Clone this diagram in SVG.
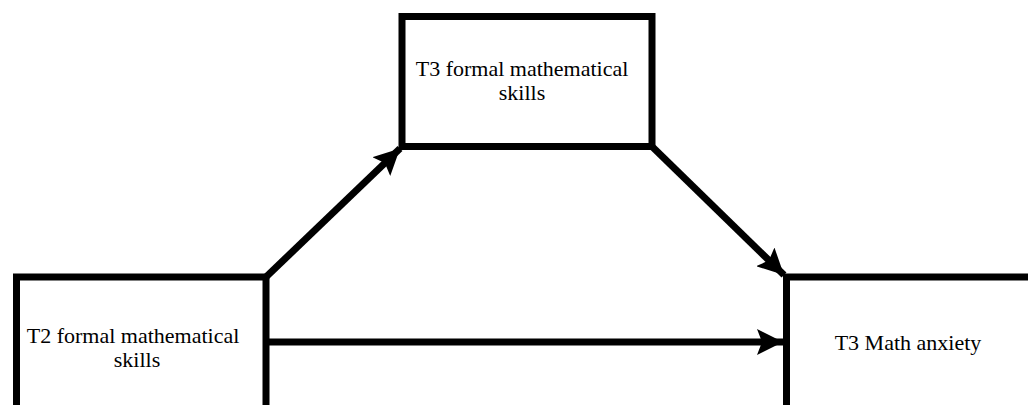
<svg xmlns="http://www.w3.org/2000/svg" width="1028" height="405" viewBox="0 0 1028 405">
<defs>
<style>
.box{fill:#fff;stroke:#000;stroke-width:7}
.lbl{font-family:"Liberation Serif","Times New Roman",serif;font-size:22px;fill:#000;text-anchor:middle}
.conn{stroke:#000;stroke-width:7;fill:none}
</style>
<marker id="ah" markerUnits="userSpaceOnUse" markerWidth="28" markerHeight="26" refX="26" refY="13" orient="auto">
<path d="M0,0 L26,13 L0,26 L5,13 Z" fill="#000"/>
</marker>
</defs>
<rect width="1028" height="405" fill="#fff"/>
<g id="connectors">
<line class="conn" x1="266" y1="277" x2="400" y2="148.5" marker-end="url(#ah)"/>
<line class="conn" x1="652" y1="146.5" x2="784" y2="275" marker-end="url(#ah)"/>
<line class="conn" x1="266" y1="342" x2="783" y2="342" marker-end="url(#ah)"/>
</g>
<g id="node-t3-skills">
<rect class="box" x="402" y="16.5" width="250" height="130"/>
<text class="lbl" x="522" y="76">T3 formal mathematical</text>
<text class="lbl" x="522" y="100">skills</text>
</g>
<g id="node-t2-skills">
<rect class="box" x="16.5" y="277" width="249.5" height="160"/>
<text class="lbl" x="133" y="343">T2 formal mathematical</text>
<text class="lbl" x="137" y="367">skills</text>
</g>
<g id="node-t3-anxiety">
<rect class="box" x="786.5" y="277" width="260" height="160"/>
<text class="lbl" x="908" y="350">T3 Math anxiety</text>
</g>
</svg>
